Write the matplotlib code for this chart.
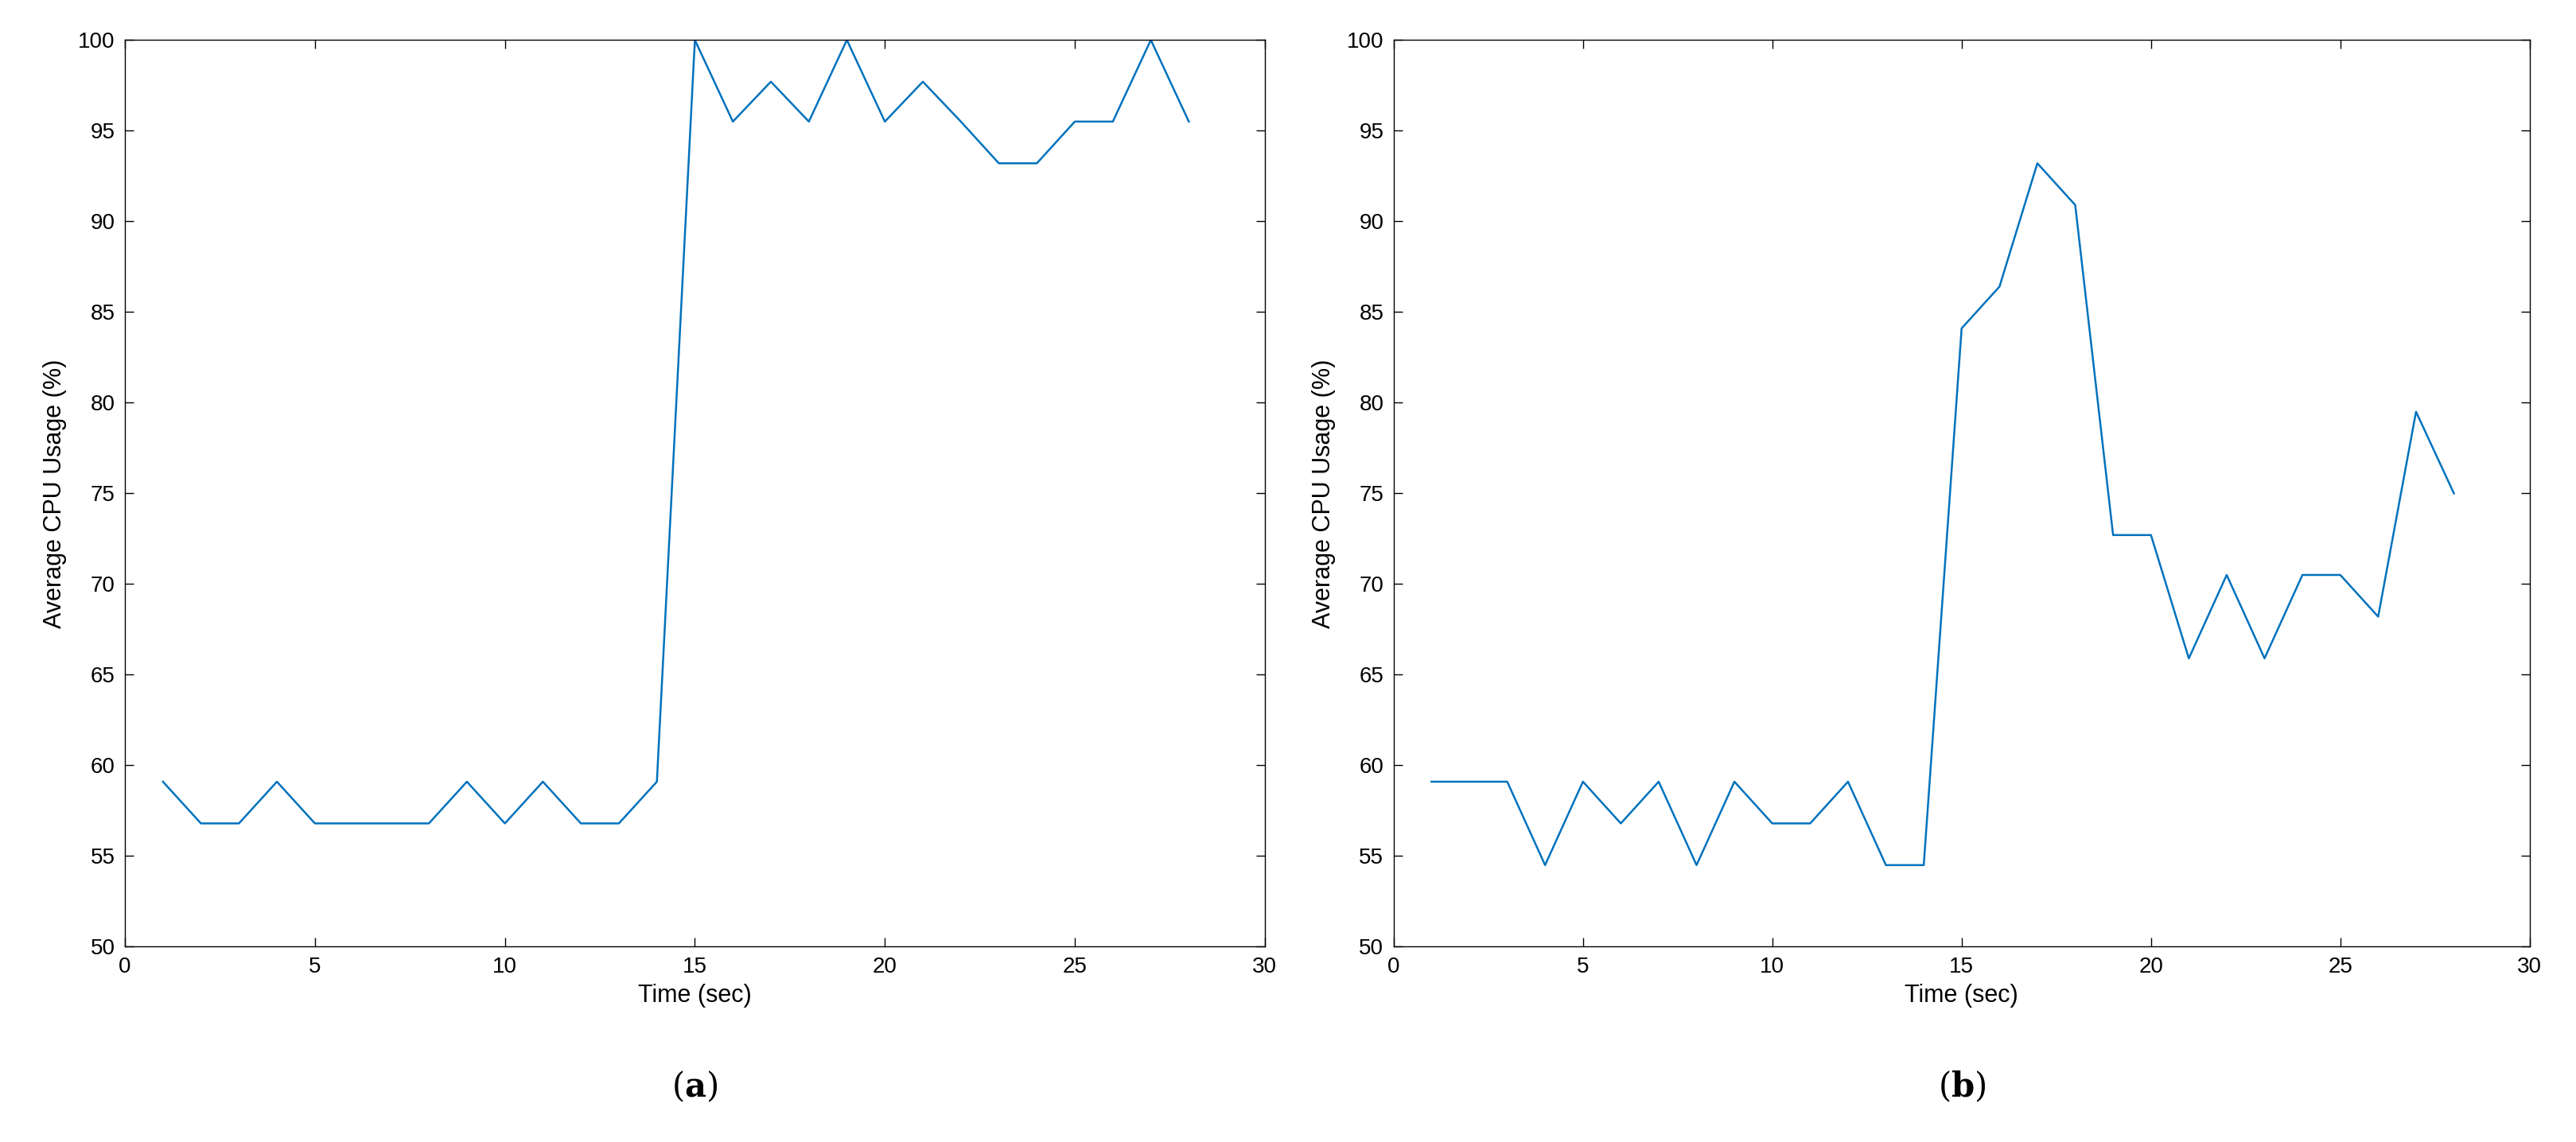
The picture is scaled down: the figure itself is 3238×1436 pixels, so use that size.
import matplotlib
matplotlib.use("Agg")
import matplotlib.pyplot as plt

time_a = list(range(1, 29))
cpu_a = [59.1, 56.8, 56.8, 59.1, 56.8, 56.8, 56.8, 56.8, 59.1, 56.8, 59.1, 56.8, 56.8, 59.1,
         100, 95.5, 97.7, 95.5, 100, 95.5, 97.7, 95.5, 93.2, 93.2, 95.5, 95.5, 100, 95.5]
time_b = list(range(1, 29))
cpu_b = [59.1, 59.1, 59.1, 54.5, 59.1, 56.8, 59.1, 54.5, 59.1, 56.8, 56.8, 59.1, 54.5, 54.5,
         84.1, 86.4, 93.2, 90.9, 72.7, 72.7, 65.9, 70.5, 65.9, 70.5, 70.5, 68.2, 79.5, 75.0]
xticks = [0, 5, 10, 15, 20, 25, 30]
yticks = [50, 55, 60, 65, 70, 75, 80, 85, 90, 95, 100]
panel_labels = ["a", "b"]

plt.rcParams['font.family'] = ['Liberation Sans', 'DejaVu Sans']
plt.rcParams['mathtext.fontset'] = 'dejavuserif'
fig = plt.figure(figsize=(32.38, 14.36), dpi=100)
rects = [[0.0485, 0.171, 0.4425, 0.794], [0.541, 0.171, 0.441, 0.794]]
for rect, t, c, lab in zip(rects, [time_a, time_b], [cpu_a, cpu_b], panel_labels):
    ax = fig.add_axes(rect)
    ax.plot(t, c, color='#0072BD', lw=1.8)
    ax.set_xlim(0, 30)
    ax.set_ylim(50, 100)
    ax.set_xticks(xticks)
    ax.set_yticks(yticks)
    ax.tick_params(direction='in', top=True, right=True, labelsize=20, length=8, width=1, pad=9)
    for s in ax.spines.values():
        s.set_linewidth(1.0)
    ax.set_xlabel('Time (sec)', fontsize=22, labelpad=6)
    ax.set_ylabel('Average CPU Usage (%)', fontsize=22, labelpad=10)
    ax.text(0.5, -0.135, r'($\mathbf{%s}$)' % lab, transform=ax.transAxes,
            ha='center', va='top', fontsize=30, family='DejaVu Serif')
fig.savefig('out.png', dpi=100)
